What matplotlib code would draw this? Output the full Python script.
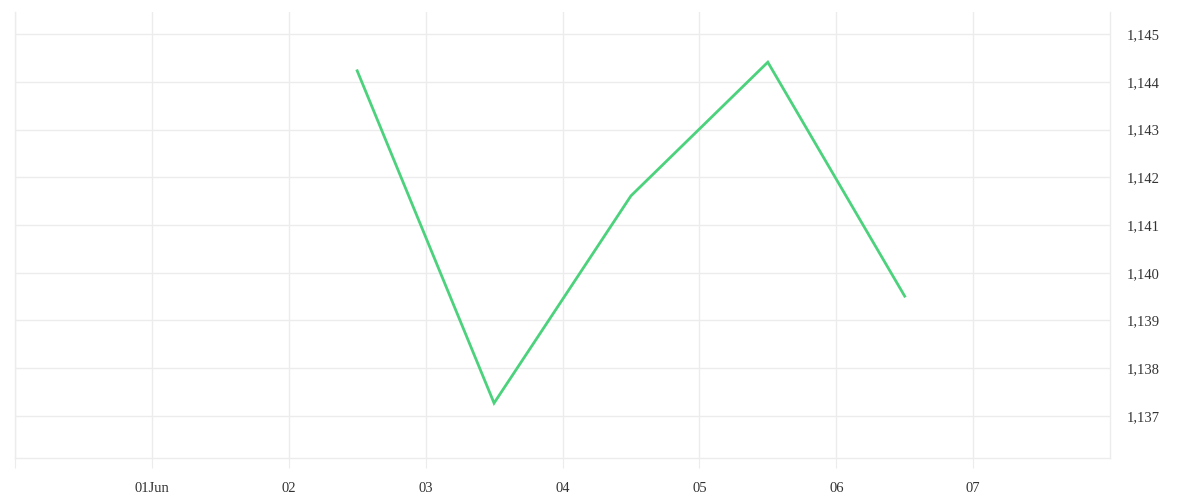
import numpy as np
import pandas as pd
import matplotlib
matplotlib.use("Agg")
from matplotlib import pyplot as plt
import matplotlib.dates as mdates
from matplotlib.ticker import FuncFormatter

dates = pd.to_datetime(["2021-06-02 12:00", "2021-06-03 12:00", "2021-06-04 12:00",
                        "2021-06-05 12:00", "2021-06-06 12:00"])
rates = [1.14423, 1.13727, 1.14161, 1.14441, 1.13951]

y_ticks = [1.137, 1.138, 1.139, 1.140, 1.141, 1.142, 1.143, 1.144, 1.145]
day_ticks = pd.date_range("2021-05-31", "2021-06-07", freq="D")
day_labels = ["", "01Jun", "02", "03", "04", "05", "06", "07"]

grid_c = "#ececec"
text_c = "#333333"

plt.rcParams["font.family"] = ["Liberation Serif", "DejaVu Serif"]

fig = plt.figure(figsize=(12, 5), dpi=100)
ax = fig.add_axes([15 / 1200, 42 / 500, 1095 / 1200, 446 / 500])

ax.plot(dates, rates, color="#4cd27c", linewidth=2, solid_joinstyle="miter")

ax.set_xlim(pd.Timestamp("2021-05-31"), pd.Timestamp("2021-06-08"))
ax.set_ylim(1.13612, 1.145461)

ax.set_xticks(day_ticks)
ax.set_xticklabels(day_labels)
ax.set_yticks(y_ticks)
ax.yaxis.set_major_formatter(FuncFormatter(lambda v, p: f"{v:.3f}".replace(".", ",")))
ax.yaxis.tick_right()

ax.grid(True, color=grid_c, linewidth=1)
for s in ax.spines.values():
    s.set_color(grid_c)
    s.set_linewidth(1)
ax.spines["top"].set_visible(False)

ax.tick_params(axis="x", length=7, color=grid_c, labelcolor=text_c, labelsize=10.5, pad=10)
ax.tick_params(axis="y", length=0, labelcolor=text_c, labelsize=10.5, pad=12)

fig.savefig("out.png", dpi=100, facecolor="white")
